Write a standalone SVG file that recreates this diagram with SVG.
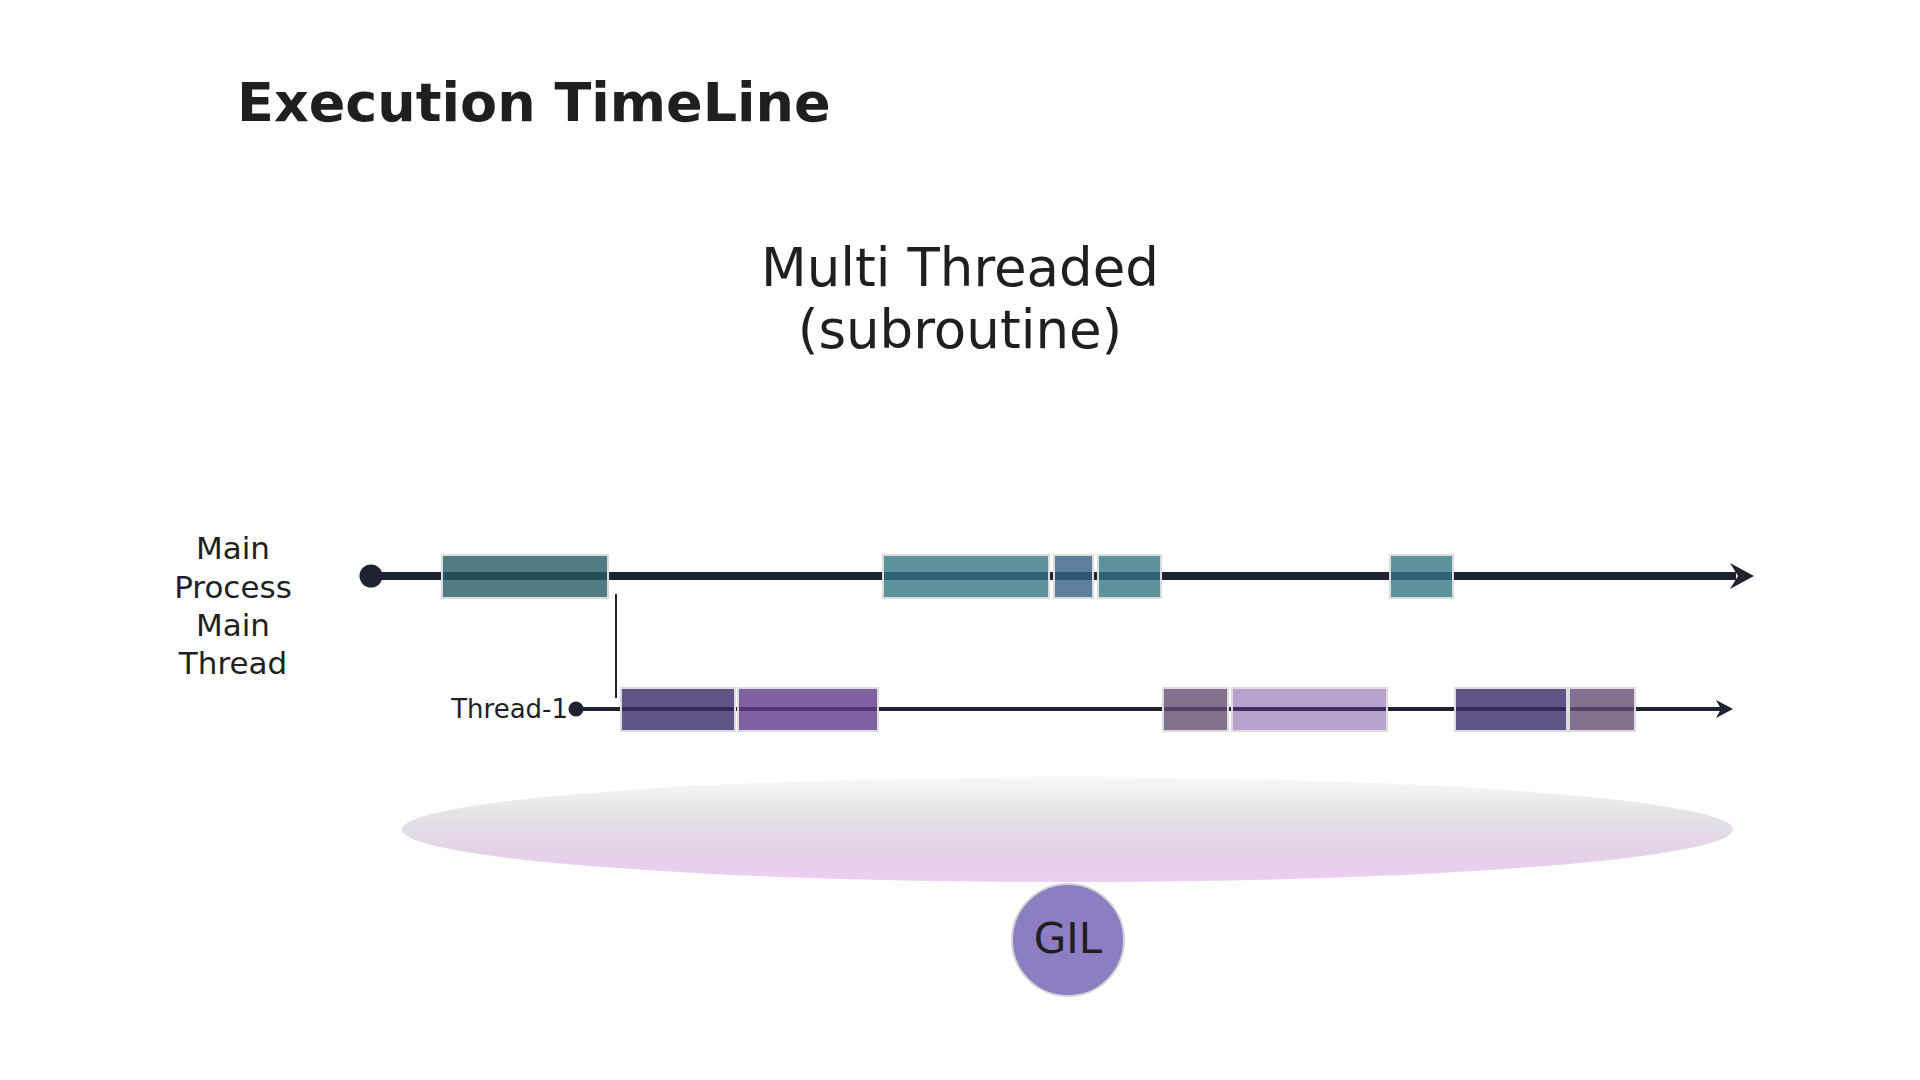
<svg xmlns="http://www.w3.org/2000/svg" width="1920" height="1080" viewBox="0 0 1920 1080">
<style>
text{font-family:"DejaVu Sans","Liberation Sans",sans-serif;fill:#1f1f1f}
.title{font-size:54px;font-weight:bold}
.sub{font-size:53px;text-anchor:middle}
.lbl{font-size:31px;text-anchor:middle}
.tl{font-size:26px;text-anchor:end}
.gil{font-size:42px;text-anchor:middle}
.box{stroke:#dcdcdc;stroke-width:2}
.line{stroke:#1e2330;fill:none}
</style>
<defs>
<linearGradient id="gilg" x1="0" y1="0" x2="0" y2="1">
<stop offset="0" stop-color="#f9f9f9"/>
<stop offset="0.35" stop-color="#e5e2e7"/>
<stop offset="0.7" stop-color="#e3d3e6"/>
<stop offset="1" stop-color="#edcdf3"/>
</linearGradient>
</defs>
<rect width="1920" height="1080" fill="#ffffff"/>
<text class="title" x="237" y="121">Execution TimeLine</text>
<text class="sub" x="960" y="286">Multi Threaded</text>
<text class="sub" x="960" y="348">(subroutine)</text>
<g id="label-main">
<text class="lbl" x="233" y="559">Main</text>
<text class="lbl" x="233" y="598">Process</text>
<text class="lbl" x="233" y="636">Main</text>
<text class="lbl" x="233" y="674">Thread</text>
</g>
<g id="connectors">
<line class="line" x1="371" y1="576" x2="1736" y2="576" stroke-width="8"/>
<path d="M1730,563 L1754,576 L1730,589 L1738,576 Z" fill="#1e2330"/>
<circle cx="371" cy="576" r="11.5" fill="#1e2330"/>
<line class="line" x1="576" y1="709" x2="1722" y2="709" stroke-width="4"/>
<path d="M1716,700 L1733,709 L1716,718 L1721,709 Z" fill="#1e2330"/>
<circle cx="576" cy="709" r="7.5" fill="#1e2330"/>
<line class="line" x1="616" y1="594" x2="616" y2="698" stroke-width="2"/>
</g>
<g id="main-thread-blocks">
<rect class="box" x="442" y="555" width="166" height="43" fill="#275a65" fill-opacity="0.8"/>
<rect class="box" x="883" y="555" width="166" height="43" fill="#327681" fill-opacity="0.79"/>
<rect class="box" x="1054" y="555" width="39" height="43" fill="#345f83" fill-opacity="0.8"/>
<rect class="box" x="1098" y="555" width="63" height="43" fill="#327681" fill-opacity="0.79"/>
<rect class="box" x="1390" y="555" width="63" height="43" fill="#327681" fill-opacity="0.79"/>
</g>
<g id="thread-1">
<text class="tl" x="568" y="718">Thread-1</text>
<rect class="box" x="621" y="688" width="114" height="43" fill="#3b2b66" fill-opacity="0.8"/>
<rect class="box" x="738" y="688" width="140" height="43" fill="#623b8a" fill-opacity="0.8"/>
<rect class="box" x="1163" y="688" width="65" height="43" fill="#634d73" fill-opacity="0.8"/>
<rect class="box" x="1232" y="688" width="155" height="43" fill="#643c94" fill-opacity="0.47"/>
<rect class="box" x="1455" y="688" width="112" height="43" fill="#3b2b66" fill-opacity="0.8"/>
<rect class="box" x="1569" y="688" width="66" height="43" fill="#634d73" fill-opacity="0.8"/>
</g>
<g id="gil-area">
<ellipse cx="1067.5" cy="829.5" rx="665.5" ry="52.5" fill="url(#gilg)"/>
</g>
<g id="gil">
<circle cx="1068" cy="940" r="56" fill="#8e7dc3" stroke="#d4d4d4" stroke-width="2"/>
<text class="gil" x="1068" y="953">GIL</text>
</g>
</svg>
